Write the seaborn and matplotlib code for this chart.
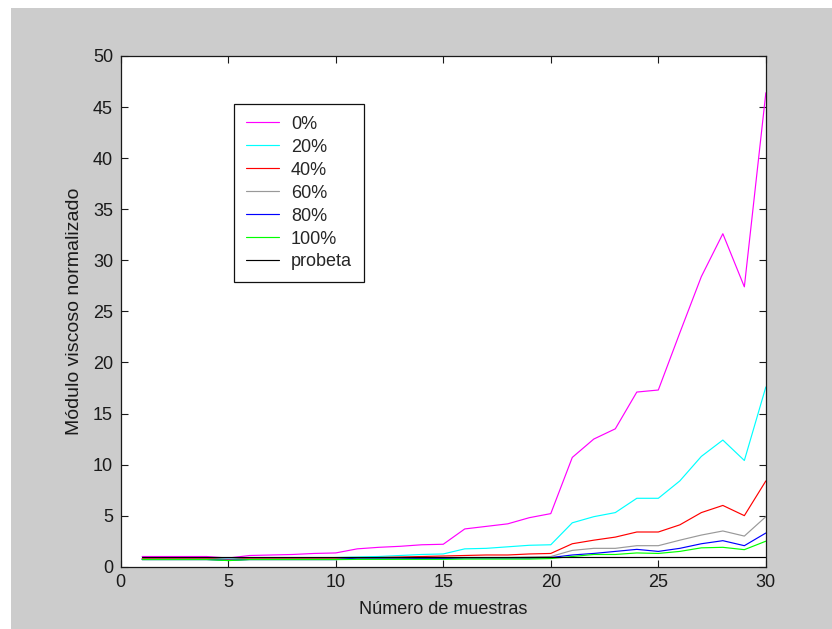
import matplotlib
matplotlib.use("Agg")
import matplotlib.pyplot as plt
import seaborn as sns
import pandas as pd
from matplotlib.patches import Rectangle

# ---- data ----
muestras = list(range(1, 31))
series_names = ["0%", "20%", "40%", "60%", "80%", "100%", "probeta"]
v_0 = [1.0, 1.0, 1.0, 1.0, 0.85, 1.1, 1.15, 1.2, 1.3, 1.35, 1.75, 1.9, 2.0, 2.15, 2.2,
       3.7, 3.95, 4.2, 4.8, 5.2, 10.7, 12.5, 13.5, 17.1, 17.3, 22.9, 28.4, 32.6, 27.4, 46.4]
v_20 = [0.85, 0.85, 0.85, 0.85, 0.75, 0.85, 0.85, 0.85, 0.85, 0.9, 0.95, 1.0, 1.1, 1.2, 1.25,
        1.75, 1.8, 1.95, 2.1, 2.15, 4.3, 4.9, 5.3, 6.7, 6.7, 8.4, 10.8, 12.4, 10.4, 17.6]
v_40 = [0.8, 0.8, 0.8, 0.8, 0.7, 0.8, 0.8, 0.8, 0.8, 0.8, 0.85, 0.9, 0.95, 1.0, 1.05,
        1.1, 1.15, 1.15, 1.25, 1.3, 2.25, 2.6, 2.9, 3.4, 3.4, 4.1, 5.3, 6.0, 5.0, 8.4]
v_60 = [0.75, 0.75, 0.75, 0.75, 0.65, 0.75, 0.75, 0.75, 0.75, 0.75, 0.8, 0.8, 0.8, 0.85, 0.85,
        0.9, 0.9, 0.9, 0.95, 1.0, 1.6, 1.8, 1.8, 2.06, 2.06, 2.6, 3.1, 3.5, 3.0, 4.9]
v_80 = [0.7, 0.7, 0.7, 0.7, 0.62, 0.7, 0.7, 0.7, 0.7, 0.7, 0.85, 0.85, 0.85, 0.8, 0.8,
        0.85, 0.85, 0.85, 0.85, 0.9, 1.15, 1.3, 1.5, 1.7, 1.5, 1.8, 2.25, 2.55, 2.06, 3.3]
v_100 = [0.7, 0.7, 0.7, 0.7, 0.6, 0.7, 0.7, 0.7, 0.7, 0.7, 0.72, 0.72, 0.72, 0.72, 0.72,
         0.75, 0.75, 0.75, 0.75, 0.8, 1.0, 1.2, 1.2, 1.35, 1.3, 1.5, 1.85, 1.9, 1.67, 2.5]
v_probeta = [1.0] * 30
colors = ["#FF00FF", "#00FFFF", "#FF0000", "#999999", "#0000FF", "#00FF00", "#000000"]
xticks = [0, 5, 10, 15, 20, 25, 30]
yticks = [0, 5, 10, 15, 20, 25, 30, 35, 40, 45, 50]

all_vals = [v_0, v_20, v_40, v_60, v_80, v_100, v_probeta]
rows = []
for name, vals in zip(series_names, all_vals):
    for x, v in zip(muestras, vals):
        rows.append({"muestra": x, "valor": v, "serie": name})
df = pd.DataFrame(rows)

sns.set_style("ticks")
plt.rcParams["font.family"] = ["Liberation Sans", "DejaVu Sans"]

fig = plt.figure(figsize=(8.32, 6.29), dpi=100, facecolor="white")
fig.patches.append(Rectangle((11 / 832, 0), 1 - 11 / 832, (629 - 8) / 629,
                             transform=fig.transFigure, facecolor="#CCCCCC",
                             edgecolor="none", zorder=-10))
ax = fig.add_axes([0.145, 0.099, 0.7755, 0.812])
ax.set_facecolor("white")

sns.lineplot(data=df, x="muestra", y="valor", hue="serie", hue_order=series_names,
             palette=colors, ax=ax, linewidth=0.85, legend=False, estimator=None)

ax.set_xlim(0, 30)
ax.set_ylim(0, 50)
ax.set_xticks(xticks)
ax.set_yticks(yticks)
ax.tick_params(direction="in", length=5, width=0.8, top=True, right=True,
               labelsize=13, colors="#1a1a1a", pad=5.5)
for s in ax.spines.values():
    s.set_visible(True)
    s.set_color("#1a1a1a")
    s.set_linewidth(0.9)

ax.set_xlabel("Número de muestras", fontsize=13, color="#1a1a1a", labelpad=7)
ax.set_ylabel("Módulo viscoso normalizado", fontsize=14, color="#1a1a1a", labelpad=7)

handles = [plt.Line2D([], [], color=c, linewidth=0.85) for c in colors]
leg = ax.legend(handles, series_names, loc="upper left", bbox_to_anchor=(0.176, 0.906),
                frameon=True, fancybox=False, shadow=False, fontsize=13,
                handlelength=1.85, handletextpad=0.65, labelspacing=0.33,
                borderpad=0.65, borderaxespad=0)
leg.get_frame().set_edgecolor("#111111")
leg.get_frame().set_linewidth(0.9)
leg.get_frame().set_alpha(1)

fig.savefig("out.png", dpi=100, facecolor=fig.get_facecolor())
